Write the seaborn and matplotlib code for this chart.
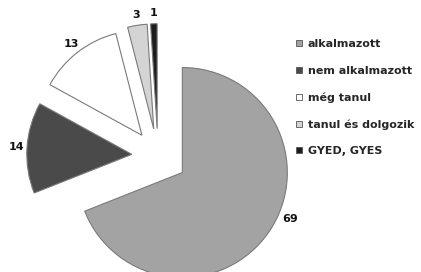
""" Pie chart of current status of respondents """
import matplotlib
matplotlib.use('Agg')
import matplotlib.pyplot as plt
from matplotlib.lines import Line2D
import numpy as np
import seaborn as sns

categories = ['alkalmazott', 'nem alkalmazott', 'még tanul', 'tanul és dolgozik', 'GYED, GYES']
values = [69, 14, 13, 3, 1]
colours = ['#a3a3a3', '#4a4a4a', '#ffffff', '#d4d4d4', '#1c1c1c']
explode = [0.28, 0.25, 0.25, 0.26, 0.26]

sns.set_theme(style='white')
plt.rcParams['font.family'] = ['DejaVu Sans']

fig = plt.figure(figsize=(4.21, 2.72), dpi=100)
ax = fig.add_axes([0, 0, 1, 1])
wedges, texts = ax.pie(values, labels=[str(v) for v in values], colors=colours,
                       explode=explode, startangle=90, counterclock=False,
                       labeldistance=1.1,
                       wedgeprops={'edgecolor': '#7a7a7a', 'linewidth': 0.8},
                       textprops={'fontsize': 8, 'fontweight': 'bold', 'color': '#111111'})
for t in texts:
    t.set_horizontalalignment('center')
    t.set_verticalalignment('center')

# the big slice has its label lower on the arc, not at the middle
w = wedges[0]
cx, cy = w.center
ang = np.deg2rad(w.theta1 + 0.545 * (w.theta2 - w.theta1))
texts[0].set_position((cx + 1.12 * np.cos(ang), cy + 1.12 * np.sin(ang)))

ax.set_aspect('auto')
# scale so 1 data unit = 105 px, centre at (158, 156) from top-left
ax.set_xlim(-158 / 105, (421 - 158) / 105)
ax.set_ylim(-(272 - 156) / 105, 156 / 105)
ax.axis('off')

handles = [Line2D([0], [0], marker='s', linestyle='', markersize=4,
                  markerfacecolor=c, markeredgecolor='#555555', markeredgewidth=0.6)
           for c in colours]
fig.legend(handles, categories, loc='upper left', bbox_to_anchor=(293 / 421, 1 - 37 / 272),
           frameon=False, handlelength=0.7, handletextpad=0.45, labelspacing=1.48,
           borderaxespad=0, borderpad=0.2,
           prop={'size': 8, 'weight': 'bold'})

fig.savefig('out.png', dpi=100)
